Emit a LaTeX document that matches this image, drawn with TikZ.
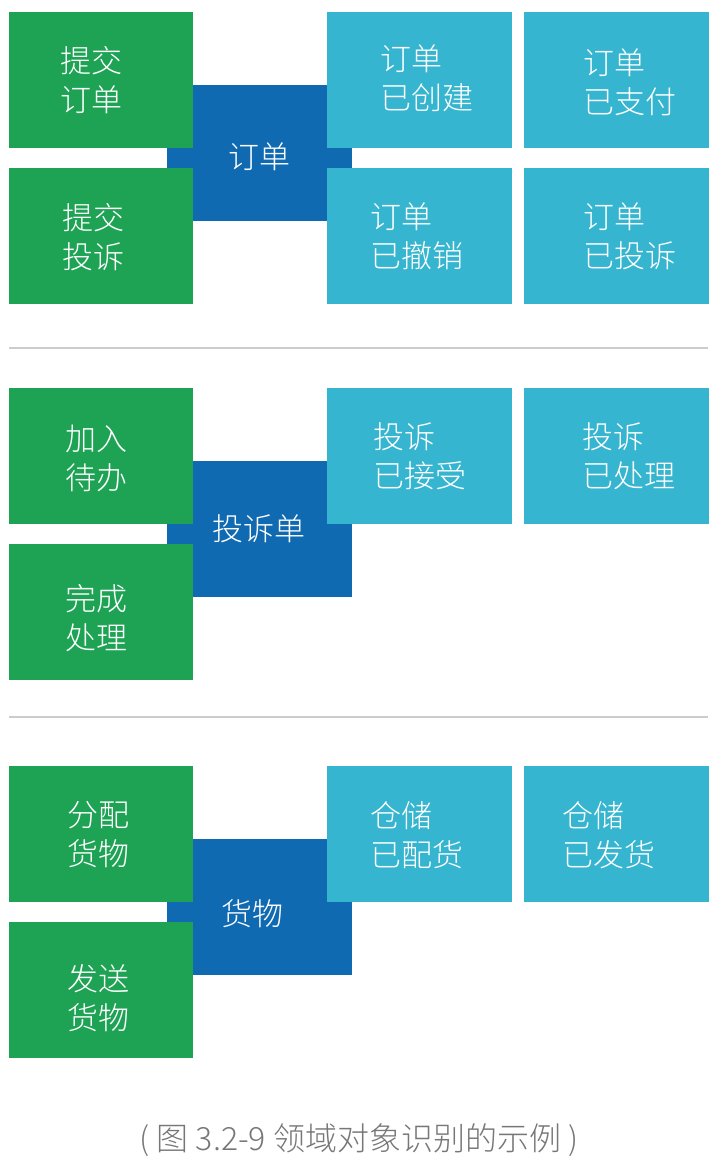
\documentclass[tikz,border=0pt]{standalone}
\usepackage{fontspec}
\newfontfamily\cjk{Noto Sans CJK SC}[UprightFont={* Light}]
\definecolor{cgreen}{HTML}{1EA355}
\definecolor{cblue}{HTML}{106AB1}
\definecolor{ccyan}{HTML}{35B5CF}
\definecolor{csep}{HTML}{CCCCCC}
\definecolor{ccap}{HTML}{777777}
\tikzset{
  box/.style={rectangle, inner sep=0pt, outer sep=0pt, anchor=north west,
    minimum width=184pt, minimum height=136pt},
  gbox/.style={box, fill=cgreen},
  bbox/.style={box, fill=cblue, minimum width=185pt},
  cbox/.style={box, fill=ccyan, minimum width=185pt},
  lbl/.style={text=white, inner sep=0pt, anchor=west, align=left,
    font=\cjk\fontsize{31}{39}\selectfont},
  clbl/.style={lbl, anchor=center, align=center},
  sep/.style={draw=csep, line width=2pt}
}
\begin{document}
\begin{tikzpicture}[x=1pt,y=-1pt]
\useasboundingbox (0,0) rectangle (717,1166);
% ---------- section 1 ----------
\node[bbox] (o) at (167,85) {};
\node[gbox] (g1) at (9,12) {};
\node[gbox] (g2) at (9,168) {};
\node[cbox] (c1) at (327,12) {};
\node[cbox] (c2) at (524,12) {};
\node[cbox] (c3) at (327,168) {};
\node[cbox] (c4) at (524,168) {};
\node[clbl] (to) at (259,157) {订单};
\node[lbl] (tg1) at (60,80) {提交\\订单};
\node[lbl] (tg2) at (62,237) {提交\\投诉};
\node[lbl] (tc1) at (380,78) {订单\\已创建};
\node[lbl] (tc2) at (583,82) {订单\\已支付};
\node[lbl] (tc3) at (370,236) {订单\\已撤销};
\node[lbl] (tc4) at (583,236) {订单\\已投诉};
\coordinate (s1a) at (9,348);
\coordinate (s1b) at (708,348);
\draw[sep] (s1a) -- (s1b);
% ---------- section 2 ----------
\node[bbox] (p) at (167,461) {};
\node[gbox] (g3) at (9,388) {};
\node[gbox] (g4) at (9,544) {};
\node[cbox] (c5) at (327,388) {};
\node[cbox] (c6) at (524,388) {};
\node[clbl] (tp) at (259,529) {投诉单};
\node[lbl] (tg3) at (65,458) {加入\\待办};
\node[lbl] (tg4) at (65,618) {完成\\处理};
\node[lbl] (tc5) at (373,456) {投诉\\已接受};
\node[lbl] (tc6) at (582,456) {投诉\\已处理};
\coordinate (s2a) at (9,717);
\coordinate (s2b) at (708,717);
\draw[sep] (s2a) -- (s2b);
% ---------- section 3 ----------
\node[bbox] (h) at (167,839) {};
\node[gbox] (g5) at (9,766) {};
\node[gbox] (g6) at (9,922) {};
\node[cbox] (c7) at (327,766) {};
\node[cbox] (c8) at (524,766) {};
\node[clbl] (th) at (252,914) {货物};
\node[lbl] (tg5) at (67,835) {分配\\货物};
\node[lbl] (tg6) at (67,998) {发送\\货物};
\node[lbl] (tc7) at (370,835) {仓储\\已配货};
\node[lbl] (tc8) at (562,835) {仓储\\已发货};
% ---------- caption ----------
\node[text=ccap, inner sep=0pt, font=\cjk\fontsize{32}{36}\selectfont] (cap) at (359,1140) {( 图 3.2-9 领域对象识别的示例 )};
\end{tikzpicture}
\end{document}
